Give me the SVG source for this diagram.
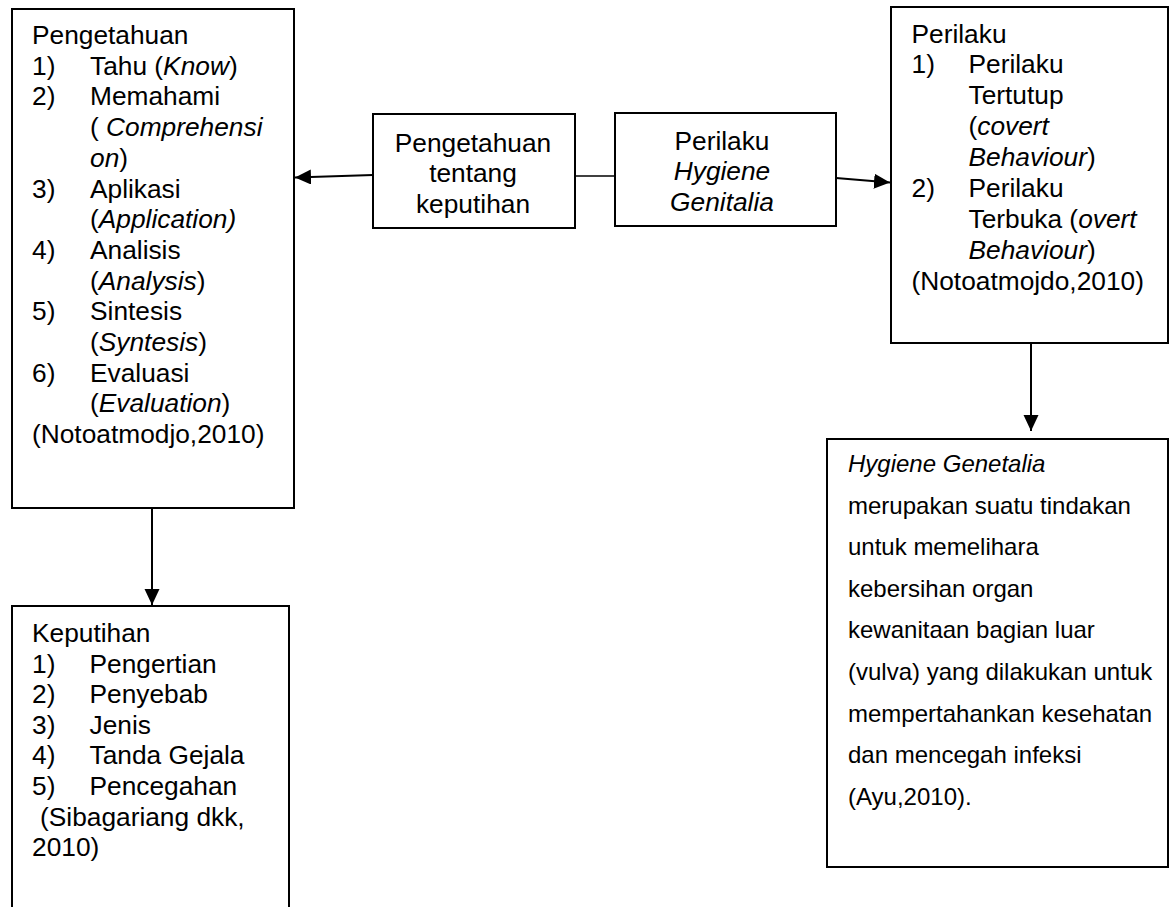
<svg xmlns="http://www.w3.org/2000/svg" width="1176" height="907" viewBox="0 0 1176 907">
<style>
.box{fill:#fff;stroke:#000;stroke-width:2}
.t{font-family:"Liberation Sans",Arial,sans-serif;font-size:26.3px;fill:#000}
.s{font-size:24px}
.i{font-style:italic}
.c{text-anchor:middle}
.arr{fill:none;stroke:#000;stroke-width:2}
.thin{fill:none;stroke:#000;stroke-width:1.3}
</style>
<defs>
<marker id="ah" markerUnits="userSpaceOnUse" markerWidth="17" markerHeight="16" refX="16" refY="7.5" orient="auto" viewBox="0 0 17 16">
<path d="M0,0 L16,7.5 L0,15 Z" fill="#000"/>
</marker>
</defs>
<rect width="1176" height="907" fill="#fff"/>

<g id="pengetahuan">
<rect class="box" x="12" y="9" width="282" height="499"/>
<text class="t" x="32" y="44">Pengetahuan</text>
<text class="t" x="32" y="74.7">1)</text><text class="t" x="90" y="74.7">Tahu (<tspan class="i">Know</tspan>)</text>
<text class="t" x="32" y="105.4">2)</text><text class="t" x="90" y="105.4">Memahami</text>
<text class="t" x="90" y="136.1">( <tspan class="i">Comprehensi</tspan></text>
<text class="t" x="90" y="166.8"><tspan class="i">on</tspan>)</text>
<text class="t" x="32" y="197.5">3)</text><text class="t" x="90" y="197.5">Aplikasi</text>
<text class="t" x="90" y="228.2">(<tspan class="i">Application)</tspan></text>
<text class="t" x="32" y="258.9">4)</text><text class="t" x="90" y="258.9">Analisis</text>
<text class="t" x="90" y="289.6">(<tspan class="i">Analysis</tspan>)</text>
<text class="t" x="32" y="320.3">5)</text><text class="t" x="90" y="320.3">Sintesis</text>
<text class="t" x="90" y="351">(<tspan class="i">Syntesis</tspan>)</text>
<text class="t" x="32" y="381.7">6)</text><text class="t" x="90" y="381.7">Evaluasi</text>
<text class="t" x="90" y="412.4">(<tspan class="i">Evaluation</tspan>)</text>
<text class="t" x="32" y="443.1">(Notoatmodjo,2010)</text>
</g>

<g id="pengetahuan-keputihan">
<rect class="box" x="373" y="114" width="202" height="114"/>
<text class="t c" x="473" y="151.5">Pengetahuan</text>
<text class="t c" x="473" y="182">tentang</text>
<text class="t c" x="473" y="212.5">keputihan</text>
</g>

<g id="perilaku-hygiene">
<rect class="box" x="615" y="113" width="221" height="113"/>
<text class="t c" x="722" y="149.5">Perilaku</text>
<text class="t c i" x="722" y="180">Hygiene</text>
<text class="t c i" x="722" y="210.5">Genitalia</text>
</g>

<g id="perilaku">
<rect class="box" x="891" y="7" width="277" height="336"/>
<text class="t" x="911.5" y="42.5">Perilaku</text>
<text class="t" x="911.5" y="73.4">1)</text><text class="t" x="968.5" y="73.4">Perilaku</text>
<text class="t" x="968.5" y="104.3">Tertutup</text>
<text class="t" x="968.5" y="135.2">(<tspan class="i">covert</tspan></text>
<text class="t" x="968.5" y="166.1"><tspan class="i">Behaviour</tspan>)</text>
<text class="t" x="911.5" y="197">2)</text><text class="t" x="968.5" y="197">Perilaku</text>
<text class="t" x="968.5" y="227.9">Terbuka (<tspan class="i">overt</tspan></text>
<text class="t" x="968.5" y="258.8"><tspan class="i">Behaviour</tspan>)</text>
<text class="t" x="911.5" y="289.7">(Notoatmojdo,2010)</text>
</g>

<g id="keputihan">
<path class="box" d="M12,920 V606 H289 V920"/>
<text class="t" x="32" y="642">Keputihan</text>
<text class="t" x="32" y="672.6">1)</text><text class="t" x="89.5" y="672.6">Pengertian</text>
<text class="t" x="32" y="703.2">2)</text><text class="t" x="89.5" y="703.2">Penyebab</text>
<text class="t" x="32" y="733.8">3)</text><text class="t" x="89.5" y="733.8">Jenis</text>
<text class="t" x="32" y="764.4">4)</text><text class="t" x="89.5" y="764.4">Tanda Gejala</text>
<text class="t" x="32" y="795">5)</text><text class="t" x="89.5" y="795">Pencegahan</text>
<text class="t" x="40" y="825.6">(Sibagariang dkk,</text>
<text class="t" x="32" y="856.2">2010)</text>
</g>

<g id="hygiene-genetalia">
<rect class="box" x="827" y="439" width="341" height="428"/>
<text class="t s i" x="848" y="472">Hygiene Genetalia</text>
<text class="t s" x="848" y="513.6">merupakan suatu tindakan</text>
<text class="t s" x="848" y="555.2">untuk memelihara</text>
<text class="t s" x="848" y="596.8">kebersihan organ</text>
<text class="t s" x="848" y="638.4">kewanitaan bagian luar</text>
<text class="t s" x="848" y="680">(vulva) yang dilakukan untuk</text>
<text class="t s" x="848" y="721.6">mempertahankan kesehatan</text>
<text class="t s" x="848" y="763.2">dan mencegah infeksi</text>
<text class="t s" x="848" y="804.8">(Ayu,2010).</text>
</g>

<g id="connectors">
<line class="arr" x1="373" y1="175" x2="295" y2="177.5" marker-end="url(#ah)"/>
<line class="thin" x1="575" y1="176" x2="615" y2="176"/>
<line class="arr" x1="836" y1="178" x2="890" y2="182.5" marker-end="url(#ah)"/>
<line class="arr" x1="152" y1="508" x2="152" y2="605" marker-end="url(#ah)"/>
<line class="arr" x1="1031" y1="343" x2="1031" y2="431" marker-end="url(#ah)"/>
</g>
</svg>
